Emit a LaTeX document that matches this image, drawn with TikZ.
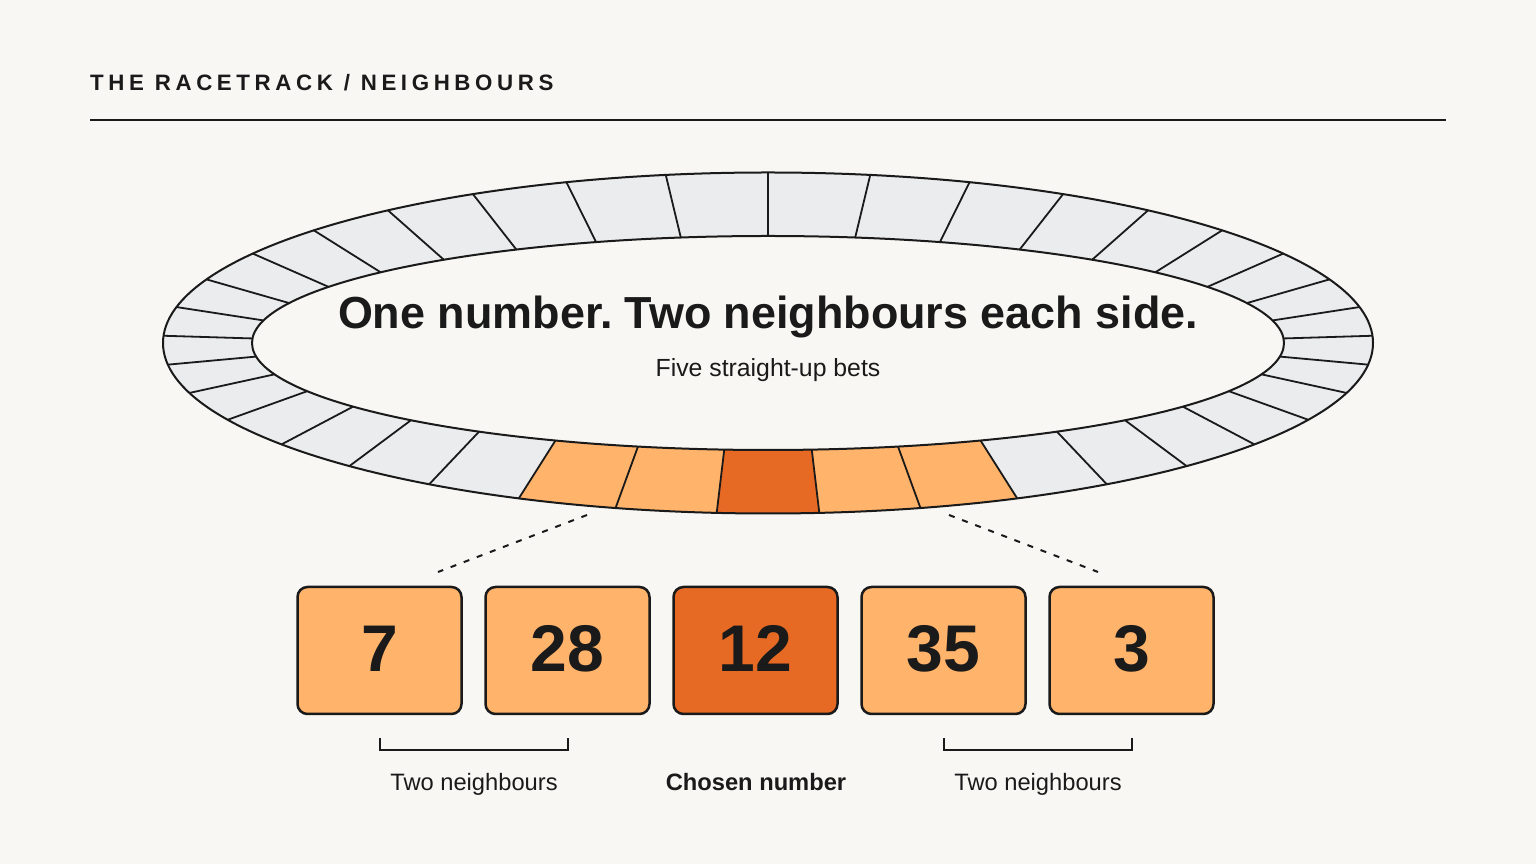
\documentclass[tikz,border=0pt]{standalone}
\usepackage{fontspec}
\setmainfont{Liberation Sans}
\newfontfamily\titlefont[LetterSpace=20.7]{Liberation Sans}
\usetikzlibrary{calc}
\definecolor{bg}{HTML}{F8F7F4}
\definecolor{ink}{HTML}{1A1A1A}
\definecolor{ringgray}{HTML}{EBECEE}
\definecolor{lightor}{HTML}{FFB36B}
\definecolor{darkor}{HTML}{E66A24}
\frenchspacing
\begin{document}
\begin{tikzpicture}[x=1pt,y=1pt,
  numbox/.style={draw=ink, line width=2.5pt, rounded corners=10pt,
    minimum width=164pt, minimum height=127pt, inner sep=0pt,
    text height=47pt, text depth=5pt, text=ink,
    font=\bfseries\fontsize{66}{70}\selectfont},
  lbl/.style={anchor=base, inner sep=0pt, text=ink, font=\fontsize{23.7}{28}\selectfont},
  ringline/.style={draw=ink, line width=1.8pt},
  dashline/.style={draw=ink, line width=2pt, dash pattern=on 6pt off 8pt},
  bracket/.style={draw=ink, line width=2pt}]
\fill[bg] (0,0) rectangle (1536,864);
\useasboundingbox (0,0) rectangle (1536,864);

% title
\node[anchor=base west, inner sep=0pt, text=ink,
  font=\titlefont\bfseries\fontsize{22.3}{26}\selectfont] (title) at (90,773.5) {THE RACETRACK / NEIGHBOURS};
\coordinate (ruleA) at (90,744);
\coordinate (ruleB) at (1446,744);
\draw[ink, line width=2pt] (ruleA) -- (ruleB);

% racetrack ring
\begin{scope}[shift={(768,521)}]
  \fill[ringgray, even odd rule] (0,0) ellipse [x radius=605, y radius=170.5]
    (0,0) ellipse [x radius=516, y radius=107];
  \foreach \k/\col in {16/lightor,17/lightor,18/darkor,19/lightor,20/lightor}{
    \pgfmathsetmacro\a{90+\k*360/37}
    \pgfmathsetmacro\b{90+(\k+1)*360/37}
    \fill[\col] (\a:605 and 170.5) arc[start angle=\a, end angle=\b, x radius=605, y radius=170.5]
      -- (\b:516 and 107) arc[start angle=\b, end angle=\a, x radius=516, y radius=107] -- cycle;
  }
  \foreach \k in {0,...,36}{
    \pgfmathsetmacro\a{90+\k*360/37}
    \draw[ringline] (\a:605 and 170.5) -- (\a:516 and 107);
  }
  \draw[ringline, line width=2pt] (0,0) ellipse [x radius=605, y radius=170.5];
  \draw[ringline, line width=2pt] (0,0) ellipse [x radius=516, y radius=107];
\end{scope}

% heading texts
\node[anchor=base, inner sep=0pt, text=ink, font=\bfseries\fontsize{44.9}{50}\selectfont] (head) at (768,535.5) {One number. Two neighbours each side.};
\node[anchor=base, inner sep=0pt, text=ink, font=\fontsize{24.8}{28}\selectfont] (sub) at (768,487.8) {Five straight-up bets};

% number boxes
\node[numbox, fill=lightor] (n7) at (379.5,213.5) {7};
\node[numbox, fill=lightor] (n28) at (567.5,213.5) {28};
\node[numbox, fill=darkor] (n12) at (755.5,213.5) {12};
\node[numbox, fill=lightor] (n35) at (943.5,213.5) {35};
\node[numbox, fill=lightor] (n3) at (1131.5,213.5) {3};

% dashed connectors
\coordinate (segL) at (587,349);
\coordinate (boxL) at (438,292);
\coordinate (segR) at (949,349);
\coordinate (boxR) at (1098,292);
\draw[dashline] (segL) -- (boxL);
\draw[dashline] (segR) -- (boxR);

% brackets
\coordinate (bL1) at (n7.south |- 0,126);
\coordinate (bL2) at (n28.south |- 0,126);
\coordinate (bR1) at (n35.south |- 0,126);
\coordinate (bR2) at (n3.south |- 0,126);
\draw[bracket] (bL1) -- ++(0,-12) -| (bL2);
\draw[bracket] (bR1) -- ++(0,-12) -| (bR2);

% labels
\node[lbl] (labL) at (474,73) {Two neighbours};
\node[lbl, font=\bfseries\fontsize{23.7}{28}\selectfont] (labC) at (756,73) {Chosen number};
\node[lbl] (labR) at (1038,73) {Two neighbours};
\end{tikzpicture}
\end{document}
